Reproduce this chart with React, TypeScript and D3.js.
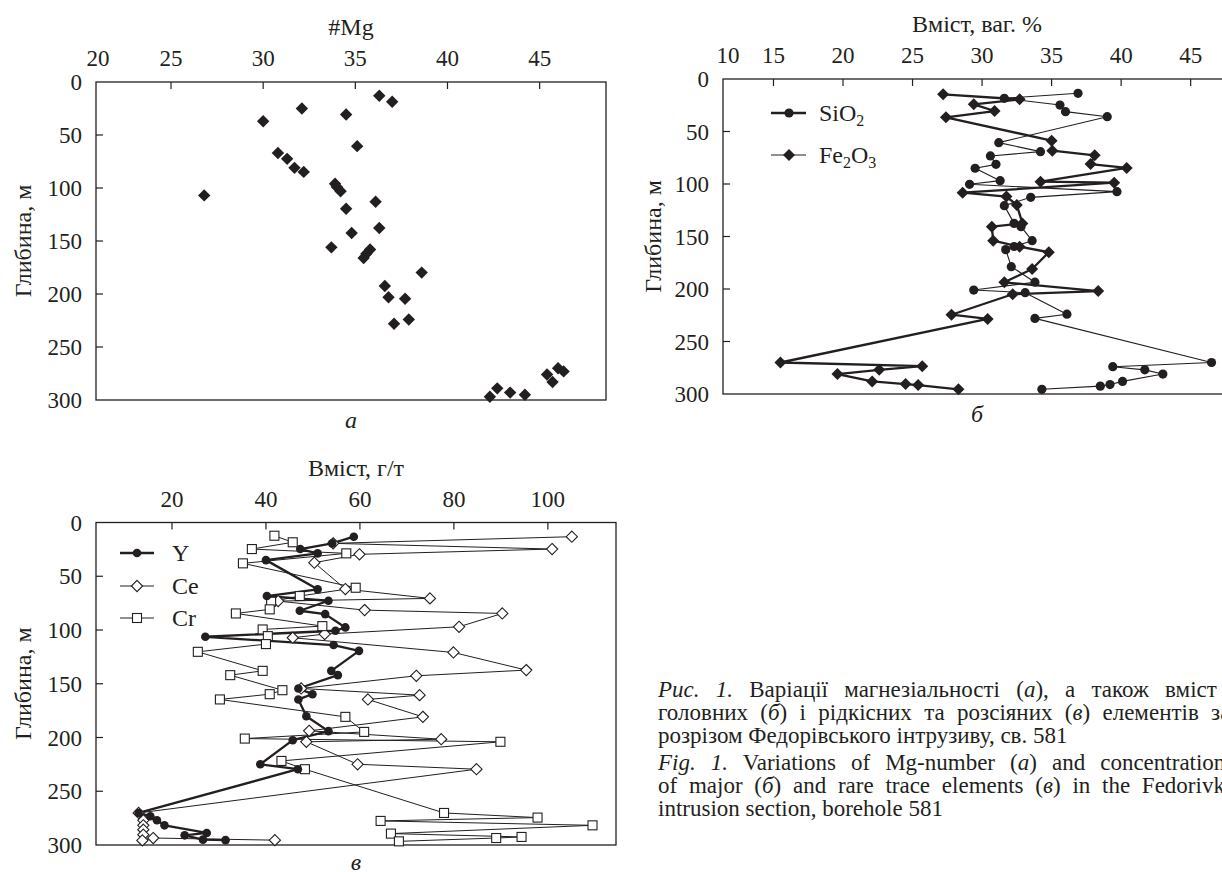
import React, { useEffect, useRef } from 'react';
import * as d3 from 'd3';

// а: #Mg against depth
const mgDepth = [13, 18.7, 25, 30.7, 37, 60.5, 67, 72.5, 81, 84.8, 96, 99, 103, 107, 113, 119.6, 137.7, 142.5, 156, 158, 162, 166, 179.8, 192.5, 203, 204.5, 224, 228, 270, 273, 276, 283, 289, 293, 295, 297];
const mgValue = [36.3, 37.0, 32.1, 34.5, 30.0, 35.1, 30.8, 31.3, 31.7, 32.2, 33.9, 34.0, 34.2, 26.8, 36.1, 34.5, 36.3, 34.8, 33.7, 35.8, 35.6, 35.45, 38.6, 36.6, 36.8, 37.7, 37.9, 37.1, 46.0, 46.3, 45.4, 45.7, 42.7, 43.4, 44.2, 42.3];

// б: major oxides, wt %
const sio2Depth = [13.6, 18.4, 24.8, 31.1, 35.9, 60.6, 69.2, 73.3, 81.3, 85, 96.8, 100.3, 107.3, 112.7, 120.6, 137.5, 140.6, 154, 159.5, 162.5, 178.7, 193.5, 201, 203.5, 224, 228, 270, 274, 277, 281, 288, 291, 292.5, 295.5];
const sio2 = [36.9, 31.6, 35.6, 36.0, 39.0, 31.2, 34.2, 30.6, 31.0, 29.5, 31.3, 29.1, 39.7, 33.5, 31.6, 32.3, 32.8, 33.6, 32.3, 31.7, 32.1, 33.8, 29.4, 33.1, 36.1, 33.8, 46.5, 39.4, 41.7, 43.0, 40.1, 39.2, 38.5, 34.3];
const fe2o3Depth = [14.6, 19.4, 24.1, 30.5, 36.5, 58.7, 68.3, 72.7, 81, 84.7, 97.8, 98.7, 108.3, 112, 120, 137.5, 140.6, 154, 159.7, 165, 181, 193.6, 202, 205, 224.5, 228.5, 270, 273.5, 277, 281, 288, 290.5, 291.5, 295.5];
const fe2o3 = [27.2, 32.7, 29.4, 30.9, 27.4, 35.0, 35.05, 38.1, 37.8, 40.4, 34.2, 39.5, 28.6, 31.75, 32.5, 32.9, 30.7, 30.8, 32.7, 34.8, 33.6, 31.6, 38.35, 32.2, 27.8, 30.4, 15.5, 25.7, 22.6, 19.6, 22.1, 24.5, 25.4, 28.3];

// в: trace elements, g/t
const yDepth = [13.2, 19.4, 24.7, 28.7, 35, 62.2, 68.4, 72.8, 82.1, 85.2, 97.6, 100.7, 106.3, 114, 119.4, 138, 142, 154.4, 159.7, 164.6, 180.2, 194.1, 202.5, 224.9, 229.5, 270.2, 273.3, 277, 281.7, 288.8, 291, 295, 295.5];
const yValue = [58.7, 54.1, 47.3, 51.0, 40.0, 51.0, 40.2, 53.3, 47.2, 52.6, 56.9, 54.8, 27.1, 54.4, 59.8, 53.9, 55.3, 46.9, 49.9, 46.9, 48.6, 53.3, 45.7, 38.8, 46.8, 12.9, 15.4, 16.8, 18.4, 27.4, 22.7, 26.6, 31.4];
const ceDepth = [13.2, 19.4, 24.7, 29.6, 37.4, 61.9, 70.6, 73.1, 81.5, 84.6, 97, 103.8, 107.2, 120.9, 137.3, 142.6, 154.4, 160.6, 164.6, 180.8, 193.8, 201.6, 204, 224.9, 229.5, 270.2, 277, 281.7, 285.7, 290.4, 295.7, 293.5, 295.5];
const ceValue = [105.1, 54.3, 100.9, 59.9, 50.3, 56.9, 74.9, 42.6, 61.0, 90.3, 81.1, 52.5, 45.7, 79.9, 95.4, 72.0, 47.5, 72.7, 61.7, 73.4, 49.2, 77.3, 48.6, 59.5, 84.8, 12.9, 13.9, 13.9, 13.9, 13.9, 13.7, 16.0, 41.9];
const crDepth = [12.3, 18.4, 24.7, 28.7, 38, 60.7, 68.4, 73.7, 80.8, 84.6, 96.4, 99.5, 105.7, 113.1, 120.3, 138, 142, 156, 159.7, 164.6, 180.8, 194.8, 201, 204, 221.8, 229.5, 270.2, 274.5, 277.6, 281.7, 289.4, 292.5, 293.5, 296.6];
const crValue = [41.8, 45.7, 37.0, 57.1, 35.1, 59.1, 47.2, 41.1, 40.8, 33.6, 52.0, 39.3, 40.4, 40.0, 25.5, 39.3, 32.4, 43.5, 40.8, 30.2, 56.9, 60.9, 35.5, 89.9, 43.3, 48.3, 77.9, 97.8, 64.4, 109.5, 66.6, 94.4, 89.0, 68.3];

// axes
const depthTicks = [0, 50, 100, 150, 200, 250, 300];
const mgTicks = [20, 25, 30, 35, 40, 45];
const oxideTicks = [10, 15, 20, 25, 30, 35, 40, 45];
const traceTicks = [20, 40, 60, 80, 100];

const captionUa = [
  [['i', 'Рис. 1.'], ['', ' Варіації магнезіальності ('], ['i', 'а'], ['', '), а також вміст']],
  [['', 'головних ('], ['i', 'б'], ['', ') і рідкісних та розсіяних ('], ['i', 'в'], ['', ') елементів за']],
  [['', 'розрізом Федорівського інтрузиву, св. 581']],
];
const captionEn = [
  [['i', 'Fig. 1.'], ['', ' Variations of Mg-number ('], ['i', 'a'], ['', ') and concentrations']],
  [['', 'of major ('], ['i', 'б'], ['', ') and rare trace elements ('], ['i', 'в'], ['', ') in the Fedorivka']],
  [['', 'intrusion section, borehole 581']],
];

const ink = '#231f20';
const serif = '"Liberation Serif", "Times New Roman", serif';
const tickSize = 23;
const labelSize = 24;

const diamond = (r: number) => `M0,${-r}L${r},0L0,${r}L${-r},0Z`;

const App: React.FC = () => {
  const svgRef = useRef<SVGSVGElement | null>(null);

  useEffect(() => {
    if (!svgRef.current) return;
    const svg = d3.select(svgRef.current);
    svg.selectAll('*').remove();
    svg.attr('font-family', serif).attr('fill', ink);

    const frame = (
      x: d3.ScaleLinear<number, number>,
      y: d3.ScaleLinear<number, number>,
      ticks: number[],
      title: string,
      letter: string,
      yTitleX: number,
      edgeShift: number,
      letterDy: number
    ) => {
      const [x0, x1] = x.range();
      const [y0, y1] = y.range();
      const g = svg.append('g');
      g.append('rect')
        .attr('x', x0).attr('y', y0)
        .attr('width', x1 - x0).attr('height', y1 - y0)
        .attr('fill', 'none').attr('stroke', ink).attr('stroke-width', 1.3);

      ticks.forEach((v) => {
        const px = x(v);
        if (px > x0 + 2) {
          g.append('line').attr('x1', px).attr('x2', px).attr('y1', y0).attr('y2', y0 + 7)
            .attr('stroke', ink).attr('stroke-width', 1.2);
        }
        g.append('text')
          .attr('x', px > x0 + 2 ? px : x0 + edgeShift)
          .attr('y', y0 - 16)
          .attr('text-anchor', 'middle')
          .attr('font-size', tickSize)
          .text(v);
      });

      depthTicks.forEach((d) => {
        if (d > 0 && d < 300) {
          g.append('line').attr('x1', x0).attr('x2', x0 + 7).attr('y1', y(d)).attr('y2', y(d))
            .attr('stroke', ink).attr('stroke-width', 1.2);
        }
        g.append('text')
          .attr('x', x0 - 14)
          .attr('y', y(d))
          .attr('dy', '0.35em')
          .attr('text-anchor', 'end')
          .attr('font-size', tickSize)
          .text(d);
      });

      const cx = (x0 + Math.min(x1, 1231)) / 2;
      g.append('text').attr('x', cx).attr('y', y0 - 47)
        .attr('text-anchor', 'middle').attr('font-size', labelSize).text(title);
      g.append('text').attr('x', cx).attr('y', y1 + letterDy)
        .attr('text-anchor', 'middle').attr('font-size', labelSize).attr('font-style', 'italic').text(letter);
      g.append('text')
        .attr('transform', `translate(${yTitleX},${(y0 + y1) / 2}) rotate(-90)`)
        .attr('text-anchor', 'middle').attr('dy', '0.35em')
        .attr('font-size', labelSize).text('Глибина, м');
      return g;
    };

    const series = (
      g: d3.Selection<SVGGElement, unknown, null, undefined>,
      x: d3.ScaleLinear<number, number>,
      y: d3.ScaleLinear<number, number>,
      depth: number[],
      vals: number[],
      width: number
    ) => {
      const pts = depth.map((d, i) => [x(vals[i]), y(d)] as [number, number]);
      g.append('path')
        .attr('d', d3.line()(pts))
        .attr('fill', 'none').attr('stroke', ink).attr('stroke-width', width)
        .attr('stroke-linejoin', 'round');
      return pts;
    };

    // ---- а ----
    const xA = d3.scaleLinear().domain([20.93, 48.6]).range([96, 606]);
    const yA = d3.scaleLinear().domain([0, 300]).range([82, 400]);
    const gA = frame(xA, yA, mgTicks, '#Mg', 'а', 23, 2, 28);
    gA.selectAll('path.mg')
      .data(mgDepth)
      .enter()
      .append('path')
      .attr('class', 'mg')
      .attr('d', diamond(6.2))
      .attr('transform', (d, i) => `translate(${xA(mgValue[i])},${yA(d)})`)
      .attr('fill', ink);

    // ---- б ----
    const xB = d3.scaleLinear().domain([11.37, 47.9]).range([723, 1231]);
    const yB = d3.scaleLinear().domain([0, 300]).range([79, 394]);
    const gB = frame(xB, yB, oxideTicks, 'Вміст, ваг. %', 'б', 653, 5, 28);
    const siPts = series(gB, xB, yB, sio2Depth, sio2, 1.1);
    const fePts = series(gB, xB, yB, fe2o3Depth, fe2o3, 2.3);
    gB.selectAll('circle.si').data(siPts).enter().append('circle')
      .attr('cx', (p) => p[0]).attr('cy', (p) => p[1]).attr('r', 4.6).attr('fill', ink);
    gB.selectAll('path.fe').data(fePts).enter().append('path')
      .attr('d', diamond(6)).attr('transform', (p) => `translate(${p[0]},${p[1]})`).attr('fill', ink);

    // legend б
    const lgB = gB.append('g');
    [
      { y: 113, w: 2.3, label: ['SiO', '2', '', ''], mark: 'c' },
      { y: 155, w: 1.1, label: ['Fe', '2', 'O', '3'], mark: 'd' },
    ].forEach((it) => {
      lgB.append('line').attr('x1', 771).attr('x2', 806).attr('y1', it.y).attr('y2', it.y)
        .attr('stroke', ink).attr('stroke-width', it.w);
      if (it.mark === 'c') lgB.append('circle').attr('cx', 789).attr('cy', it.y).attr('r', 4.6).attr('fill', ink);
      else lgB.append('path').attr('d', diamond(6)).attr('transform', `translate(789,${it.y})`).attr('fill', ink);
      const t = lgB.append('text').attr('x', 819).attr('y', it.y + 8).attr('font-size', labelSize);
      t.append('tspan').text(it.label[0]);
      t.append('tspan').attr('font-size', 16).attr('dy', 5).text(it.label[1]);
      if (it.label[2]) {
        t.append('tspan').attr('dy', -5).text(it.label[2]);
        t.append('tspan').attr('font-size', 16).attr('dy', 5).text(it.label[3]);
      }
    });

    // ---- в ----
    const xC = d3.scaleLinear().domain([3.83, 114.5]).range([96, 616]);
    const yC = d3.scaleLinear().domain([0, 300]).range([522.5, 845]);
    const gC = frame(xC, yC, traceTicks, 'Вміст, г/т', 'в', 23, 0, 25);
    const cePts = series(gC, xC, yC, ceDepth, ceValue, 1);
    const crPts = series(gC, xC, yC, crDepth, crValue, 1);
    const yPts = series(gC, xC, yC, yDepth, yValue, 2.3);
    gC.selectAll('path.ce').data(cePts).enter().append('path')
      .attr('d', diamond(5.6)).attr('transform', (p) => `translate(${p[0]},${p[1]})`)
      .attr('fill', '#fff').attr('stroke', ink).attr('stroke-width', 1.1);
    gC.selectAll('rect.cr').data(crPts).enter().append('rect')
      .attr('x', (p) => p[0] - 4.5).attr('y', (p) => p[1] - 4.5).attr('width', 9).attr('height', 9)
      .attr('fill', '#fff').attr('stroke', ink).attr('stroke-width', 1.1);
    gC.selectAll('circle.y').data(yPts).enter().append('circle')
      .attr('cx', (p) => p[0]).attr('cy', (p) => p[1]).attr('r', 4.3).attr('fill', ink);

    // legend в
    const lgC = gC.append('g');
    [
      { y: 553, w: 2.3, label: 'Y', mark: 'c' },
      { y: 586, w: 1, label: 'Ce', mark: 'd' },
      { y: 618, w: 1, label: 'Cr', mark: 's' },
    ].forEach((it) => {
      lgC.append('line').attr('x1', 120).attr('x2', 154).attr('y1', it.y).attr('y2', it.y)
        .attr('stroke', ink).attr('stroke-width', it.w);
      if (it.mark === 'c') lgC.append('circle').attr('cx', 137).attr('cy', it.y).attr('r', 4.3).attr('fill', ink);
      if (it.mark === 'd') lgC.append('path').attr('d', diamond(5.6)).attr('transform', `translate(137,${it.y})`)
        .attr('fill', '#fff').attr('stroke', ink).attr('stroke-width', 1.1);
      if (it.mark === 's') lgC.append('rect').attr('x', 132.5).attr('y', it.y - 4.5).attr('width', 9).attr('height', 9)
        .attr('fill', '#fff').attr('stroke', ink).attr('stroke-width', 1.1);
      lgC.append('text').attr('x', 172).attr('y', it.y + 8).attr('font-size', labelSize).text(it.label);
    });

    // ---- caption (justified lines run past the right edge, as in the source) ----
    const cap = svg.append('g').attr('font-size', 23);
    const lines = [
      { parts: captionUa[0], y: 697, ws: 10.5 },
      { parts: captionUa[1], y: 720, ws: 6.6 },
      { parts: captionUa[2], y: 743, ws: 0 },
      { parts: captionEn[0], y: 770, ws: 9.3 },
      { parts: captionEn[1], y: 793, ws: 6 },
      { parts: captionEn[2], y: 816, ws: 0 },
    ];
    lines.forEach((ln) => {
      const t = cap.append('text').attr('x', 658).attr('y', ln.y).attr('word-spacing', ln.ws);
      ln.parts.forEach(([style, s]) => {
        const ts = t.append('tspan').text(s);
        if (style === 'i') ts.attr('font-style', 'italic');
      });
    });
  }, []);

  return (
    <svg
      ref={svgRef}
      width={1222}
      height={872}
      style={{ position: 'absolute', left: 0, top: 0, background: '#fff' }}
    />
  );
};

export default App;
